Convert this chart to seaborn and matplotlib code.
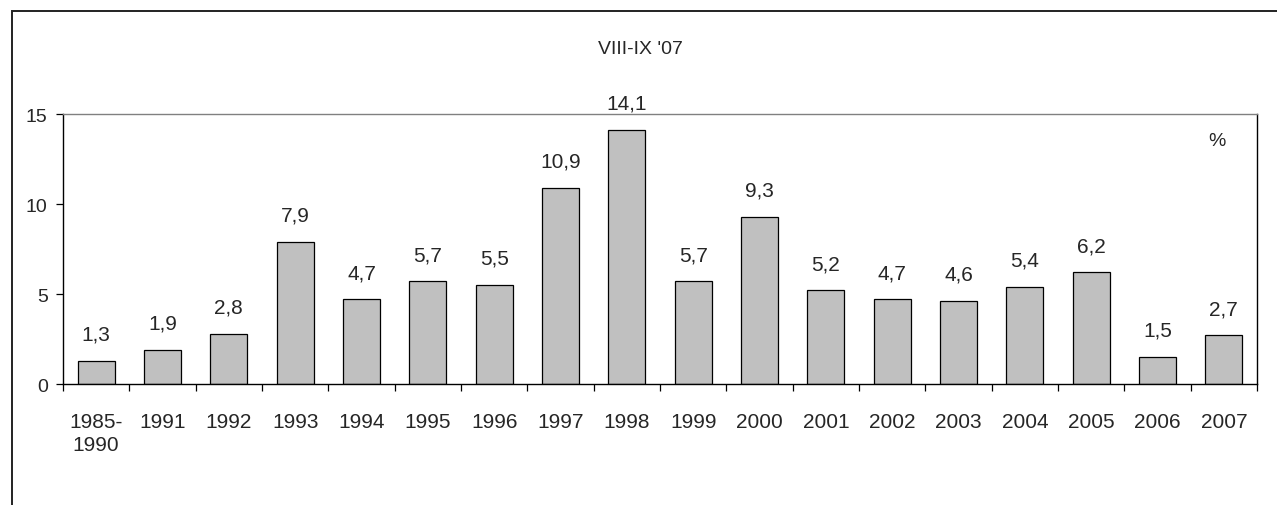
import matplotlib
matplotlib.use("Agg")
import matplotlib.pyplot as plt
import seaborn as sns
import pandas as pd
import numpy as np
from matplotlib.patches import Rectangle

categories = ["1985-\n1990", "1991", "1992", "1993", "1994", "1995", "1996", "1997", "1998",
              "1999", "2000", "2001", "2002", "2003", "2004", "2005", "2006", "2007"]
values = [1.3, 1.9, 2.8, 7.9, 4.7, 5.7, 5.5, 10.9, 14.1, 5.7, 9.3, 5.2, 4.7, 4.6, 5.4, 6.2, 1.5, 2.7]
y_ticks = [0, 5, 10, 15]
subtitle = "VIII-IX '07"
unit_label = "%"

sns.set_theme(style="white")
plt.rcParams['font.family'] = ['Liberation Sans', 'DejaVu Sans']

df = pd.DataFrame({"cat": categories, "val": values})

fig = plt.figure(figsize=(12.77, 5.06), dpi=100)
W, H = 1277, 506
ax = fig.add_axes([63 / W, 1 - 385 / H, (1257 - 63) / W, (385 - 115) / H])

sns.barplot(data=df, x="cat", y="val", ax=ax, color="#C0C0C0", width=0.56,
            edgecolor="black", linewidth=0.9, saturation=1)

ax.set_xlim(-0.5, len(categories) - 0.5)
ax.set_ylim(0, 15)
ax.set_yticks(y_ticks)
ax.set_yticklabels([str(t) for t in y_ticks], fontsize=14)
ax.set_xlabel("")
ax.set_ylabel("")

# major ticks (labels) at centers without marks; minor tick marks at boundaries
ax.set_xticks(range(len(categories)))
ax.set_xticklabels(categories, fontsize=15, linespacing=1.3)
ax.tick_params(axis="x", which="major", length=0, pad=20)
ax.set_xticks(np.arange(-0.5, len(categories)), minor=True)
ax.tick_params(axis="x", which="minor", length=5, width=0.9, color="black", direction="out", bottom=True)
ax.tick_params(axis="y", which="major", length=5, width=0.9, color="black", direction="out", left=True, pad=6)

for side in ["left", "bottom"]:
    ax.spines[side].set_color("black")
    ax.spines[side].set_linewidth(1.0)
ax.spines["top"].set_color("#808080")
ax.spines["top"].set_linewidth(1.0)
ax.spines["right"].set_color("black")
ax.spines["right"].set_linewidth(1.0)

for i, v in enumerate(values):
    ax.annotate(f"{v:.1f}".replace(".", ","), xy=(i, v), xytext=(0, 12.5),
                textcoords="offset points", ha="center", va="bottom", fontsize=15,
                annotation_clip=False)

fig.text(640 / W, 1 - 50 / H, subtitle, ha="center", va="center", fontsize=14)
fig.text(1217 / W, 1 - 142 / H, unit_label, ha="center", va="center", fontsize=14)

# outer chart frame
fig.patches.append(Rectangle((12 / W, -0.1), 1.2, 1 - 12 / H + 0.1, transform=fig.transFigure,
                             fill=False, edgecolor="#222222", linewidth=1.4))

fig.savefig("out.png", dpi=100, facecolor="white")
